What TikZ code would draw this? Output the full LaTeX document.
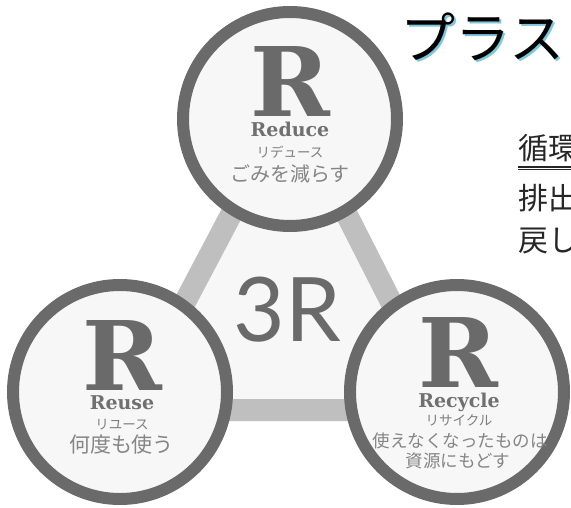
\documentclass[tikz,border=0pt]{standalone}
\usepackage{fontspec}
\setmainfont{DejaVu Serif}
\newfontfamily\jpfont{Noto Sans CJK JP}
\newfontfamily\roundsans{Lato}
\usetikzlibrary{positioning,calc}
\definecolor{ringgray}{HTML}{6A6A6A}
\definecolor{bargray}{HTML}{BFBFBF}
\definecolor{insidegray}{HTML}{F7F7F7}
\definecolor{textgray}{HTML}{707070}
\definecolor{shadowblue}{HTML}{7CC6DE}
\tikzset{
    r ring/.style = {
        circle,
        draw = ringgray,
        line width = 12pt,
        fill = insidegray,
        minimum size = 214pt,
        inner sep = 0pt,
        },
    big r/.style = {
        text = ringgray,
        inner sep = 0pt,
        text height = 70pt,
        text depth = 0pt,
        font = \bfseries\fontsize{96}{96}\selectfont,
        },
    en name/.style = {
        text = textgray,
        inner sep = 0pt,
        text height = 14pt,
        text depth = 0pt,
        font = \bfseries\fontsize{19}{19}\selectfont,
        },
    kana/.style = {
        text = textgray!90,
        inner sep = 0pt,
        text height = 10pt,
        text depth = 0pt,
        font = \jpfont\fontsize{13.5}{13.5}\selectfont,
        },
    jp text/.style = {
        text = textgray!85,
        inner sep = 0pt,
        font = \jpfont\fontsize{20}{20}\selectfont,
        },
    bar/.style = {
        draw = bargray,
        line width = 22pt,
        fill = insidegray,
        },
    title/.style = {
        anchor = west,
        inner sep = 0pt,
        font = \jpfont\fontsize{55}{55}\selectfont,
        },
    side text/.style = {
        anchor = west,
        inner sep = 0pt,
        text = black!85,
        font = \jpfont\fontsize{30}{30}\selectfont,
        },
}
\begin{document}
\begin{tikzpicture}[x=1pt,y=-1pt]
    \useasboundingbox (0,0) rectangle (571,508);
    \clip (0,0) rectangle (571,508);

    \coordinate (apex) at (290,103);
    \coordinate (bl) at (128,410);
    \coordinate (br) at (446,410);
    \draw[bar] (apex) -- (bl) -- (br) -- cycle;
    \node[text=ringgray, inner sep=0pt, font=\roundsans\fontsize{89}{89}\selectfont] (threer) at (287.5,310) {3R};

    \node[r ring] (reduce) at (290,119) {};
    \node[r ring] (reuse) at (120,392) {};
    \node[r ring] (recycle) at (457,392) {};

    \node[big r] (reduceR) at ($(reduce)+(0,-37)$) {R};
    \node[en name] (reduceEn) at ($(reduce)+(0,11)$) {Reduce};
    \node[kana] (reduceKana) at ($(reduce)+(0,33.5)$) {リデュース};
    \node[jp text] (reduceJp) at ($(reduce)+(0,54.5)$) {ごみを減らす};

    \node[big r] (reuseR) at ($(reuse)+(2,-37)$) {R};
    \node[en name] (reuseEn) at ($(reuse)+(2,10)$) {Reuse};
    \node[kana] (reuseKana) at ($(reuse)+(2,32)$) {リユース};
    \node[jp text, font=\jpfont\fontsize{21}{21}\selectfont] (reuseJp) at ($(reuse)+(1.5,53)$) {何度も使う};

    \node[big r] (recycleR) at ($(recycle)+(1,-40)$) {R};
    \node[en name] (recycleEn) at ($(recycle)+(2,8)$) {Recycle};
    \node[kana] (recycleKana) at ($(recycle)+(2,28)$) {リサイクル};
    \node[jp text, font=\jpfont\fontsize{17.5}{17.5}\selectfont] (recycleJp) at ($(recycle)+(3,49)$) {使えなくなったものは};
    \node[jp text, font=\jpfont\fontsize{17.5}{17.5}\selectfont] (recycleJpb) at ($(recycle)+(1,69)$) {資源にもどす};

    \node[title, text=shadowblue] (titleshadow) at (402,39) {プラス};
    \node[title] (titletext) at (400,37) {プラス};

    \node[side text] (junkan) at (518,148) {循環};
    \node[side text] (haishutsu) at (518,198) {排出};
    \node[side text] (modoshi) at (518,241) {戻し};
    \draw[black!85, line width=1.4pt] ($(junkan.south west)+(0,5)$) -- ++(60,0);
    \draw[black!85, line width=1pt] ($(junkan.south west)+(0,8)$) -- ++(60,0);
\end{tikzpicture}
\end{document}
